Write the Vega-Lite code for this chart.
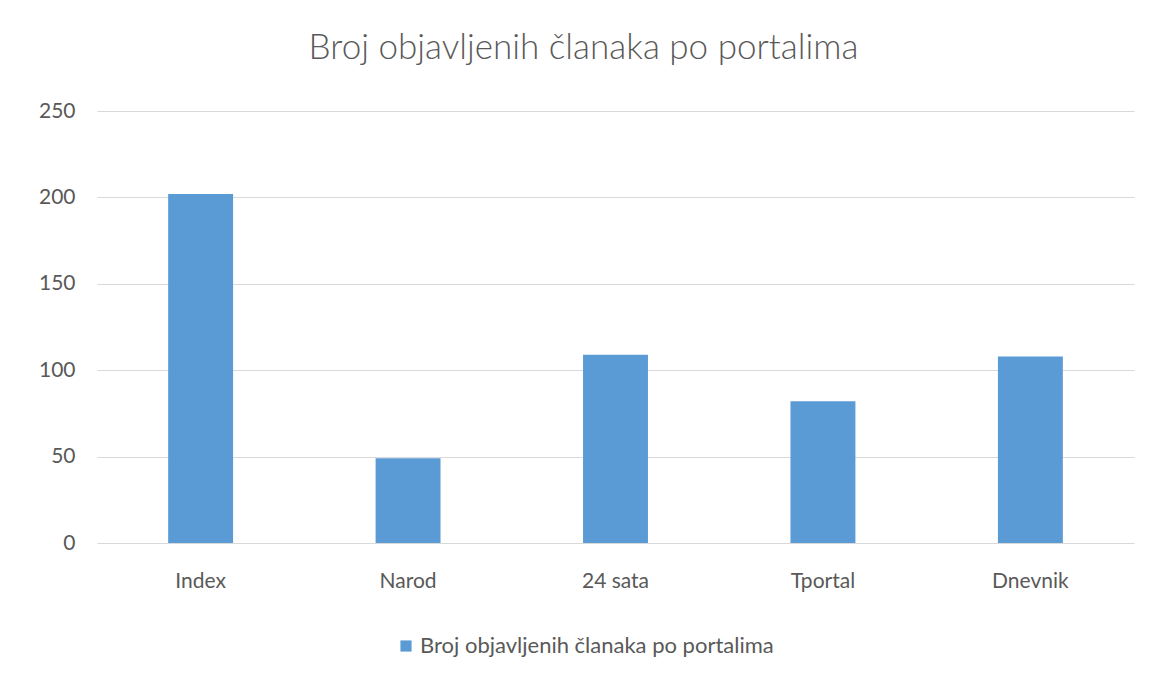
{
  "$schema": "https://vega.github.io/schema/vega-lite/v6.json",
  "autosize": {"type": "none"},
  "width": 1037,
  "height": 432,
  "padding": {"left": 97, "top": 111, "right": 17, "bottom": 137},
  "background": "white",
  "title": {
    "text": "Broj objavljenih članaka po portalima",
    "anchor": "middle",
    "dx": -32,
    "offset": 34,
    "font": "Lato",
    "fontSize": 35,
    "fontWeight": 300,
    "color": "#595959"
  },
  "data": {
    "values": [
      {"portal": "Index", "broj": 202, "serija": "Broj objavljenih članaka po portalima"},
      {"portal": "Narod", "broj": 49, "serija": "Broj objavljenih članaka po portalima"},
      {"portal": "24 sata", "broj": 109, "serija": "Broj objavljenih članaka po portalima"},
      {"portal": "Tportal", "broj": 82, "serija": "Broj objavljenih članaka po portalima"},
      {"portal": "Dnevnik", "broj": 108, "serija": "Broj objavljenih članaka po portalima"}
    ]
  },
  "mark": {"type": "bar"},
  "encoding": {
    "x": {
      "field": "portal",
      "type": "nominal",
      "sort": null,
      "scale": {"paddingInner": 0.687, "paddingOuter": 0.343},
      "axis": {
        "title": null,
        "labelAngle": 0,
        "domain": false,
        "ticks": false,
        "labelPadding": 27,
        "labelFont": "Lato",
        "labelFontSize": 21,
        "labelColor": "#595959"
      }
    },
    "y": {
      "field": "broj",
      "type": "quantitative",
      "scale": {"domain": [0, 250], "nice": false},
      "axis": {
        "title": null,
        "values": [0, 50, 100, 150, 200, 250],
        "domain": false,
        "ticks": false,
        "labelPadding": 22,
        "labelFont": "Lato",
        "labelFontSize": 21,
        "labelColor": "#595959",
        "gridColor": "#d9d9d9",
        "gridWidth": 1
      }
    },
    "color": {
      "field": "serija",
      "type": "nominal",
      "scale": {"range": ["#5b9bd5"]},
      "legend": {
        "title": null,
        "orient": "none",
        "legendX": 298,
        "legendY": 524,
        "symbolType": "square",
        "symbolSize": 125,
        "symbolStrokeWidth": 0,
        "labelFont": "Lato",
        "labelFontSize": 22,
        "labelColor": "#595959",
        "labelOffset": 3,
        "labelLimit": 0
      }
    }
  },
  "config": {
    "view": {"stroke": null}
  }
}
